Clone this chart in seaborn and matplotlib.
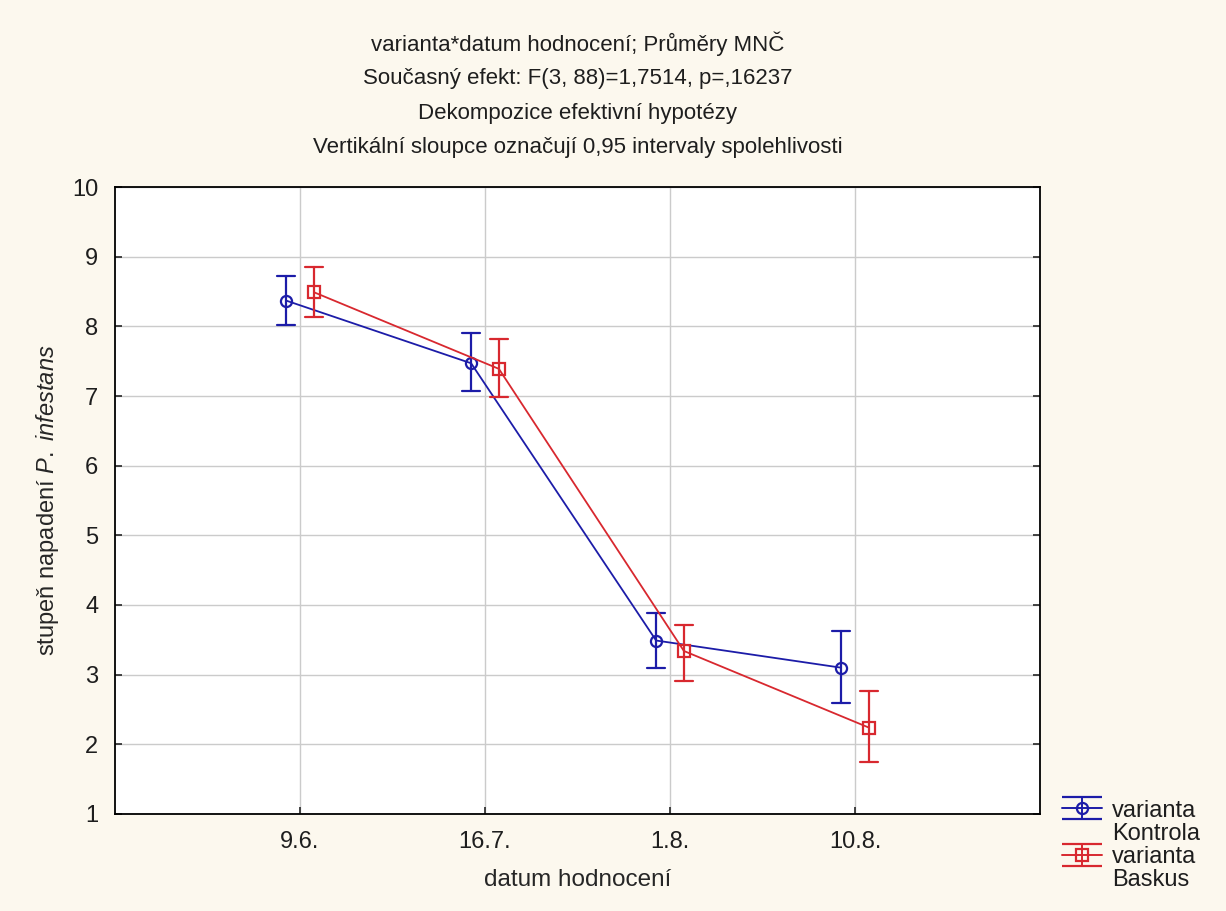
import numpy as np
import pandas as pd
import matplotlib
matplotlib.use("Agg")
import matplotlib.pyplot as plt
from matplotlib.container import ErrorbarContainer
from matplotlib.legend_handler import HandlerErrorbar
import seaborn as sns

# values (LSM means + 95% CI)
dates = ["9.6.", "16.7.", "1.8.", "10.8."]
variants = ["Kontrola", "Baskus"]
mean_kontrola = [8.37, 7.47, 3.49, 3.10]
lo_kontrola = [8.02, 7.07, 3.09, 2.60]
hi_kontrola = [8.72, 7.91, 3.89, 3.62]
mean_baskus = [8.49, 7.39, 3.34, 2.24]
lo_baskus = [8.13, 6.99, 2.91, 1.75]
hi_baskus = [8.85, 7.82, 3.72, 2.76]

title_lines = [
    "varianta*datum hodnocení; Průměry MNČ",
    "Současný efekt: F(3, 88)=1,7514, p=,16237",
    "Dekompozice efektivní hypotézy",
    "Vertikální sloupce označují 0,95 intervaly spolehlivosti",
]

# long table: lo / mean / hi per cell -> median gives the mean, 100% interval gives the CI
rows = []
for var, m, lo, hi in [("Kontrola", mean_kontrola, lo_kontrola, hi_kontrola),
                       ("Baskus", mean_baskus, lo_baskus, hi_baskus)]:
    for d, mm, ll, hh in zip(dates, m, lo, hi):
        for v in (ll, mm, hh):
            rows.append({"datum": d, "varianta": var, "value": v})
df = pd.DataFrame(rows)

sns.set_style("ticks")
plt.rcParams["font.family"] = ["Liberation Sans", "DejaVu Sans"]
plt.rcParams["mathtext.fontset"] = "custom"
plt.rcParams["mathtext.it"] = "Liberation Sans:italic"
plt.rcParams["mathtext.rm"] = "Liberation Sans"
plt.rcParams["text.color"] = "#1e1e1e"

bg = "#fcf8ee"
palette = {"Kontrola": "#1c1ca8", "Baskus": "#d8282f"}
markers = {"Kontrola": "o", "Baskus": "s"}

fig = plt.figure(figsize=(12.26, 9.11), dpi=100, facecolor=bg)
ax = fig.add_axes([0.0938, 0.1065, 0.7545, 0.6882])
ax.set_facecolor("white")

sns.pointplot(
    data=df, x="datum", y="value", hue="varianta", order=dates, hue_order=variants,
    estimator="median", errorbar=("pi", 100), dodge=0.15, palette=palette,
    markers=[markers[v] for v in variants], linestyles=["-", "-"], capsize=0.1,
    err_kws={"linewidth": 1.6}, linewidth=1.3, markersize=8,
    markerfacecolor="none", markeredgewidth=1.6, legend=False, ax=ax,
)

ax.set_xlim(-1, 4)
ax.set_ylim(1, 10)
ax.set_yticks(range(1, 11))
ax.grid(True, color="#cbcbcb", linewidth=1.0)
ax.set_axisbelow(True)
for s in ax.spines.values():
    s.set_visible(True)
    s.set_color("black")
    s.set_linewidth(1.3)
ax.tick_params(direction="in", length=5, width=1.2, labelsize=17, right=True, pad=12,
               labelcolor="#1e1e1e")
ax.set_xlabel("datum hodnocení", fontsize=17.5, labelpad=12)
ax.set_ylabel("stupeň napadení $\\it{P.\\ infestans}$", fontsize=17, labelpad=8)

# title stack above the plot
cx = 0.0938 + 0.7545 / 2
for i, line in enumerate(title_lines):
    fig.text(cx, 1 - (44 + 34.5 * i) / 911, line, ha="center", va="center", fontsize=16)

# errorbar-style legend keys, like Statistica's; second label line gets a blank key
handles, labels = [], []
for v in variants:
    eb = ax.errorbar([np.nan], [np.nan], yerr=[1.0], color=palette[v], marker=markers[v],
                     markersize=8, markerfacecolor="none", markeredgewidth=1.6,
                     capsize=14.4, linewidth=1.4)
    handles += [eb, plt.Line2D([], [], linestyle="none")]
    labels += ["varianta", v]
leg = ax.legend(handles, labels, loc="lower left", bbox_to_anchor=(1.024, -0.123),
                frameon=False, fontsize=17, handlelength=1.7, handletextpad=0.42,
                borderaxespad=0, borderpad=0, labelspacing=0.05,
                handler_map={ErrorbarContainer: HandlerErrorbar(yerr_size=0.47)})

fig.savefig("out.png", dpi=100, facecolor=bg)
